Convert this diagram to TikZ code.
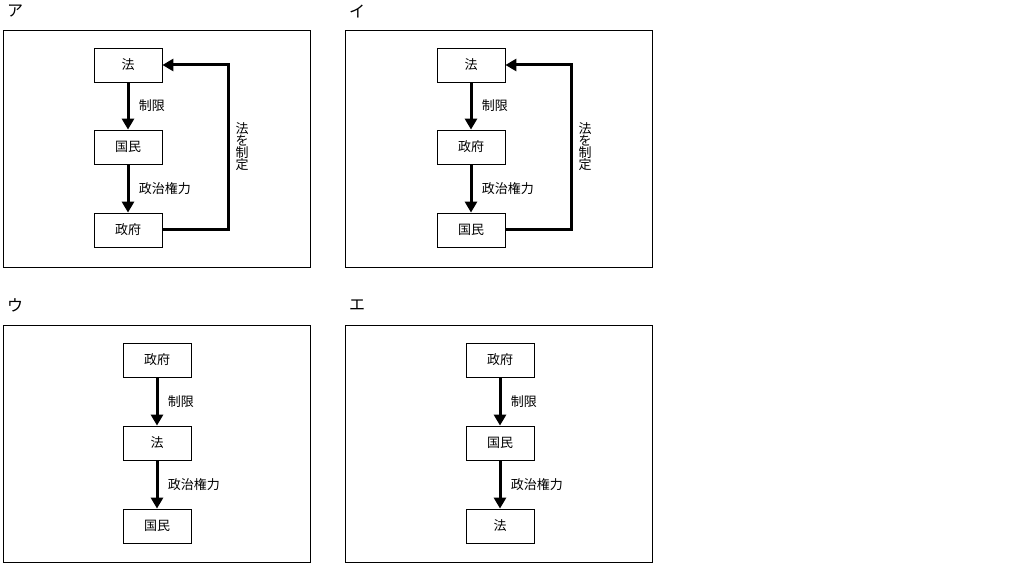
\documentclass[tikz,border=0pt]{standalone}
\usepackage{fontspec}
\setmainfont{Noto Sans CJK JP}
\usetikzlibrary{arrows.meta}
\begin{document}
\begin{tikzpicture}[x=1pt,y=-1pt,
  box/.style={draw,line width=0.8pt,minimum width=68pt,minimum height=34pt,inner sep=0pt,font=\fontsize{13}{15}\selectfont},
  panel/.style={draw,line width=0.8pt},
  arr/.style={line width=3pt,-{Triangle[length=11pt,width=12pt]}},
  lab/.style={font=\fontsize{13}{15}\selectfont,anchor=west},
  ttl/.style={font=\fontsize{16}{18}\selectfont}]
\useasboundingbox (0,0) rectangle (1034,564);
\node[ttl] (ta) at (15,11) {ア};
\node[ttl] (ti) at (357,11) {イ};
\node[ttl] (tu) at (15,305) {ウ};
\node[ttl] (te) at (357,305) {エ};
\draw[panel] (3,30) rectangle (310,267);
\draw[panel] (345,30) rectangle (652,267);
\draw[panel] (3,325) rectangle (310,562);
\draw[panel] (345,325) rectangle (652,562);
% ア
\node[box] (a1) at (128,65) {法};
\node[box] (a2) at (128,147) {国民};
\node[box] (a3) at (128,230) {政府};
\draw[arr] (a1) -- (a2) node[lab,midway,xshift=6pt] {制限};
\draw[arr] (a2) -- (a3) node[lab,midway,xshift=6pt] {政治権力};
\coordinate (ac1) at (228,230); \coordinate (ac2) at (228,65);
\draw[arr] (a3.east) -- (ac1) -- (ac2) -- (a1.east);
\node[font=\fontsize{13}{15}\selectfont,align=center] (av) at (242,147) {法\\[-3pt]を\\[-3pt]制\\[-3pt]定};
% イ
\node[box] (i1) at (471,65) {法};
\node[box] (i2) at (471,147) {政府};
\node[box] (i3) at (471,230) {国民};
\draw[arr] (i1) -- (i2) node[lab,midway,xshift=6pt] {制限};
\draw[arr] (i2) -- (i3) node[lab,midway,xshift=6pt] {政治権力};
\coordinate (ic1) at (571,230); \coordinate (ic2) at (571,65);
\draw[arr] (i3.east) -- (ic1) -- (ic2) -- (i1.east);
\node[font=\fontsize{13}{15}\selectfont,align=center] (iv) at (585,147) {法\\[-3pt]を\\[-3pt]制\\[-3pt]定};
% ウ
\node[box] (u1) at (157,360) {政府};
\node[box] (u2) at (157,443) {法};
\node[box] (u3) at (157,526) {国民};
\draw[arr] (u1) -- (u2) node[lab,midway,xshift=6pt] {制限};
\draw[arr] (u2) -- (u3) node[lab,midway,xshift=6pt] {政治権力};
% エ
\node[box] (e1) at (500,360) {政府};
\node[box] (e2) at (500,443) {国民};
\node[box] (e3) at (500,526) {法};
\draw[arr] (e1) -- (e2) node[lab,midway,xshift=6pt] {制限};
\draw[arr] (e2) -- (e3) node[lab,midway,xshift=6pt] {政治権力};
\end{tikzpicture}
\end{document}
